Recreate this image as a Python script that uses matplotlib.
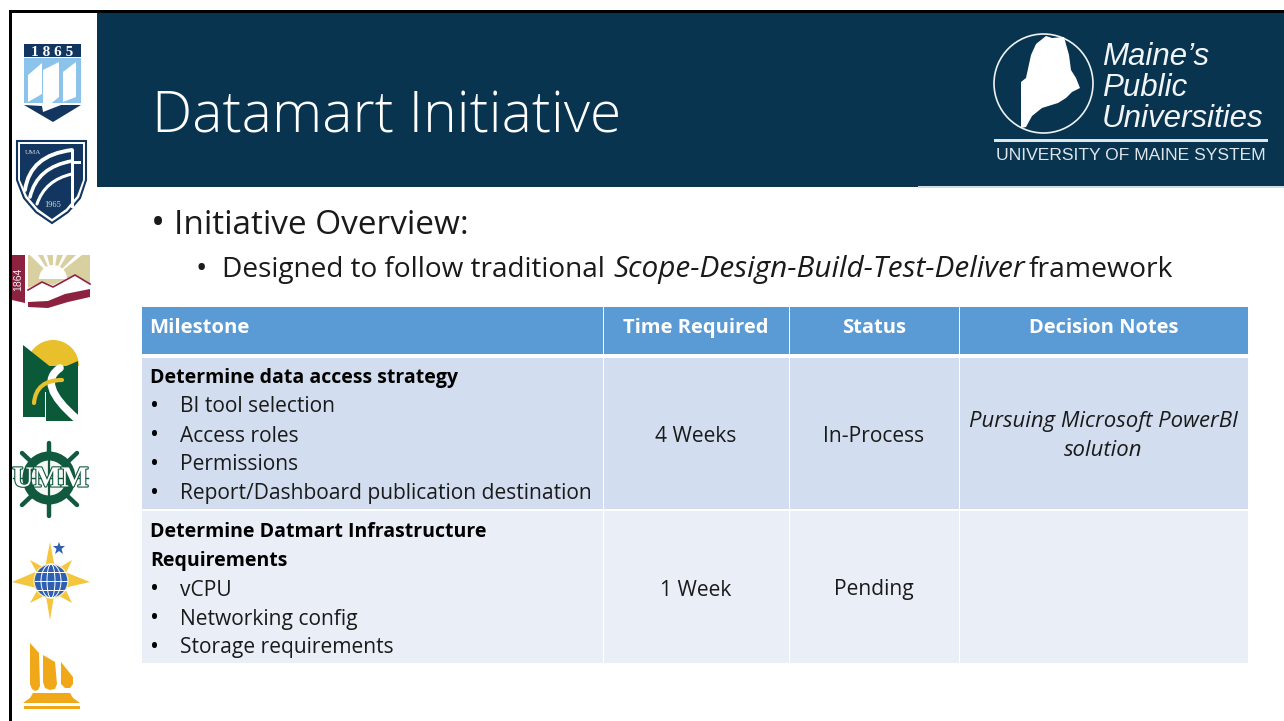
import matplotlib
matplotlib.use("Agg")
import matplotlib.pyplot as plt
import matplotlib.patheffects as pe
from matplotlib.patches import Rectangle, Polygon, Circle, Wedge, Ellipse, PathPatch
from matplotlib.path import Path

plt.rcParams['font.family'] = ['Open Sans', 'DejaVu Sans']

title = "Datamart Initiative"
overview = "Initiative Overview:"
columns = ["Milestone", "Time Required", "Status", "Decision Notes"]
m1_head = ["Determine data access strategy"]
m1_items = ["BI tool selection", "Access roles", "Permissions", "Report/Dashboard publication destination"]
m2_head = ["Determine Datmart Infrastructure", "Requirements"]
m2_items = ["vCPU", "Networking config", "Storage requirements"]
times = ["4 Weeks", "1 Week"]
status = ["In-Process", "Pending"]
notes = ["Pursuing Microsoft PowerBI", "solution"]

NAVY = "#08344f"
HEAD = "#5b9bd5"
ROW1 = "#d2deef"
ROW2 = "#eaeff7"
TXT = "#1a1a1a"

fig = plt.figure(figsize=(12.84, 7.21), dpi=100)
ax = fig.add_axes([0, 0, 1, 1])
ax.set_xlim(0, 1284)
ax.set_ylim(721, 0)
ax.axis("off")


def rect(x0, y0, x1, y1, c, z=1):
    ax.add_patch(Rectangle((x0, y0), x1 - x0, y1 - y0, fc=c, ec="none", zorder=z))


def poly(pts, c, z=3):
    ax.add_patch(Polygon(pts, closed=True, fc=c, ec="none", lw=0, zorder=z))


def curve(p0, p1, p2, c, lw, z=4):
    ax.add_patch(PathPatch(Path([p0, p1, p2], [Path.MOVETO, Path.CURVE3, Path.CURVE3]), fc="none", ec=c, lw=lw,
                           zorder=z, capstyle="round"))


# frame and header
rect(10, 10, 1284, 13, "#000000", 5)
rect(9, 10, 12, 721, "#000000", 5)
rect(97, 12, 1284, 187, NAVY)
ax.text(152, 118, title, color="white", fontsize=41, va="center", ha="left", fontweight=300)

# system logo
ax.add_patch(Circle((1043.5, 83.5), 49.5, fc="none", ec="#eef2f4", lw=1.2, zorder=3))
maine = [(1021, 128), (1021, 82), (1026, 78), (1031, 55), (1036, 44), (1046, 36), (1052, 38), (1064, 37),
         (1069, 55), (1071, 70), (1076, 78), (1080, 88), (1072, 92), (1066, 98), (1058, 103), (1042, 108),
         (1032, 116), (1026, 127)]
poly(maine, "white")
for txt, y in zip(["Maine\u2019s", "Public", "Universities"], [57, 88, 119]):
    ax.text(1102, y, txt, color="#f2f5f7", fontsize=22.5, style="italic", va="center", ha="left",
            family="Liberation Sans")
rect(994, 139, 1268, 141.5, "#dfe6ea", 3)
ax.text(1130.5, 155.5, "UNIVERSITY OF MAINE SYSTEM", color="#dfe6ea", fontsize=12.6, va="center", ha="center",
        family="Liberation Sans")
rect(918, 186, 1284, 188, "#cfdbe6", 2)

# bullets
ax.text(151, 225, "\u2022", fontsize=27, color=TXT, va="center")
ax.text(174, 226, overview, fontsize=24, color=TXT, va="center")
ax.text(196, 270, "\u2022", fontsize=22, color=TXT, va="center")
ax.text(222, 270, "Designed to follow traditional ", fontsize=20.2, color=TXT, va="center")
ax.text(613, 270, "Scope-Design-Build-Test-Deliver", fontsize=21.4, color=TXT, va="center", style="italic")
ax.text(1029, 270, "framework", fontsize=20.4, color=TXT, va="center")

# table
xs = [141, 603, 789, 959, 1248]
rows = [(307, 354, HEAD), (358, 509, ROW1), (511, 663, ROW2)]
for y0, y1, c in rows:
    for a, b in zip(xs[:-1], xs[1:]):
        rect(a + 0.5, y0, b - 0.5, y1, c)

ax.text(149.5, 328, columns[0], color="white", fontsize=14.6, fontweight="bold", va="center")
for i in range(1, 4):
    ax.text((xs[i] + xs[i + 1]) / 2, 328, columns[i], color="white", fontsize=14.5, fontweight="bold",
            va="center", ha="center")

FS = 15.1
FB = 14.0
y = 378
for t in m1_head:
    ax.text(150, y, t, fontsize=FB, fontweight="bold", color="black", va="center")
    y += 29
for t in m1_items:
    ax.text(150, y, "\u2022", fontsize=17, color="black", va="center")
    ax.text(180, y, t, fontsize=FS, color=TXT, va="center")
    y += 29
y = 532
for t in m2_head:
    ax.text(150, y, t, fontsize=FB, fontweight="bold", color="black", va="center")
    y += 29
for t in m2_items:
    ax.text(150, y, "\u2022", fontsize=17, color="black", va="center")
    ax.text(180, y, t, fontsize=FS, color=TXT, va="center")
    y += 29

for y, a, b in zip([436, 590], times, status):
    ax.text(696, y, a, fontsize=FS, color=TXT, va="center", ha="center")
    ax.text(874, y, b, fontsize=FS, color=TXT, va="center", ha="center")
for y, t in zip([422, 450], notes):
    ax.text(1103.5, y, t, fontsize=15.9, color=TXT, va="center", ha="center", style="italic")

# campus marks down the left
# 1865
rect(24, 44, 81, 57, "#12365f", 3)
ax.text(52.5, 52, "1 8 6 5", color="white", fontsize=11, fontweight="bold", family="Liberation Serif",
        va="center", ha="center", zorder=4)
rect(24, 58, 81, 103, "#8cc3ea", 3)
poly([(28, 75), (42, 63), (42, 94), (28, 102)], "white", 4)
poly([(43, 70), (59, 62), (59, 97), (43, 110)], "white", 5)
poly([(63, 72), (76, 62), (76, 97), (63, 102)], "white", 4)
poly([(24, 105), (42, 106), (43, 112), (61, 105), (81, 105), (53, 122)], "#12365f", 4)

# UMA
shield = [(17, 141), (86, 141), (86, 180), (80, 198), (68, 212), (52, 223), (36, 212), (24, 198), (17, 180)]
ax.add_patch(Polygon(shield, closed=True, fc="white", ec="#12365f", lw=1.5, zorder=3))
inner = [(20, 144), (83, 144), (83, 180), (77, 196), (66, 209), (52, 219), (38, 209), (27, 196), (20, 180)]
poly(inner, "#12365f", 3)
curve((25, 190), (30, 155), (72, 150), "white", 2.8)
curve((30, 197), (37, 167), (72, 161), "white", 2.6)
curve((37, 204), (45, 180), (72, 174), "white", 2.2)
rect(71, 150, 74, 208, "white", 4)
rect(71, 161, 81, 164, "white", 4)
ax.text(25, 152, "UMA", color="#d5dde8", fontsize=5, family="Liberation Serif", va="center", zorder=5)
ax.text(53, 205, "1965", color="#d5dde8", fontsize=6, family="Liberation Serif", va="center", ha="center", zorder=5)

# 1864
poly([(12, 255), (25, 255), (25, 303), (12, 300)], "#8c2240", 3)
ax.text(18.5, 279, "1864", color="#eeeeee", fontsize=7.5, rotation=90, va="center", ha="center",
        family="Liberation Sans", zorder=4)
rect(28, 255, 90, 292, "#d9d0a2", 3)
for x0, x1 in [(30, 38), (43, 47), (53, 57), (63, 67), (76, 82)]:
    poly([(x0, 255), (x1, 255), (53, 278)], "white", 4)
ax.add_patch(Wedge((53, 279), 14, 180, 360, fc="white", ec="none", zorder=4))
poly([(28, 288), (42, 282), (53, 285), (75, 275), (90, 283), (90, 293), (28, 304)], "white", 4)
ax.plot([28, 42, 53, 75, 90], [290, 282, 287, 275, 284], color="#8c2240", lw=1.2, zorder=5)
poly([(28, 302), (48, 301), (65, 294), (90, 289), (90, 297), (68, 302), (48, 308), (28, 307)], "#8c2240", 5)

# Fort Kent
ax.add_patch(Wedge((53, 366), 26, 180, 360, fc="#e7c02c", ec="none", zorder=3))
rect(23, 366, 45, 417, "#0a5a3a", 3)
rect(45, 366, 78, 421, "#0a5a3a", 3)
poly([(23, 345), (52, 368), (23, 368)], "#0a5a3a", 4)
poly([(78, 361), (62, 368), (78, 368)], "#0a5a3a", 4)
curve((60, 368), (36, 384), (77, 419), "white", 5.5)
rect(44.5, 392, 45.5, 421, "white", 5)
curve((34, 403), (36, 380), (62, 380), "#e7c02c", 3, 6)

# UMM wheel
GR = "#11593f"
for (a, b, c, d) in [(49, 443, 49, 516), (22, 453, 77, 505), (77, 453, 22, 505)]:
    ax.plot([a, c], [b, d], color=GR, lw=3.2, zorder=3, solid_capstyle="round")
ax.add_patch(Circle((49, 478), 22, fc="#f4f7f5", ec=GR, lw=6.5, zorder=4))
ax.plot([49, 49], [460, 496], color=GR, lw=1.6, zorder=5)
ax.plot([13, 88], [478, 478], color=GR, lw=1, zorder=5)
ax.text(50.5, 479, "UMM", color="white", fontsize=21, fontweight="bold", family="Liberation Serif", va="center",
        ha="center", zorder=6, path_effects=[pe.withStroke(linewidth=1.6, foreground=GR)])

# star and globe
GOLD = "#f4c63d"
poly([(50, 542), (55, 568), (90, 582), (55, 590), (50, 620), (45, 590), (12, 582), (45, 568)], GOLD, 3)
poly([(30, 560), (52, 572), (72, 560), (62, 582), (72, 603), (52, 592), (30, 603), (42, 582)], GOLD, 3)
ax.add_patch(Circle((51, 581), 17, fc="#2e5fb0", ec="#f7e9b5", lw=1, zorder=4))
for w in [8, 20]:
    ax.add_patch(Ellipse((51, 581), w, 34, fc="none", ec="white", lw=0.7, zorder=5))
for yy in [572, 581, 590]:
    ax.plot([35, 67], [yy, yy], color="white", lw=0.7, zorder=5)
poly([(59, 542), (60.5, 546), (65, 546), (61.5, 549), (63, 554), (59, 551), (55, 554), (56.5, 549), (53, 546),
      (57.5, 546)], "#2e5fb0", 4)

# sails
OR = "#f0a818"
poly([(30, 643), (39, 653), (40, 686), (38, 690), (35, 691), (32, 689), (30, 684)], OR)
poly([(43, 655), (55, 662), (57, 684), (55, 689), (50, 690), (45, 688), (43, 682)], OR)
poly([(61, 662), (73, 677), (73, 684), (70, 688), (65, 688), (61, 684)], OR)
poly([(33, 693), (70, 693), (73, 698), (80, 703), (23, 703), (30, 698)], OR)
rect(24, 706, 80, 709, OR)

fig.savefig("out.png", dpi=100)
